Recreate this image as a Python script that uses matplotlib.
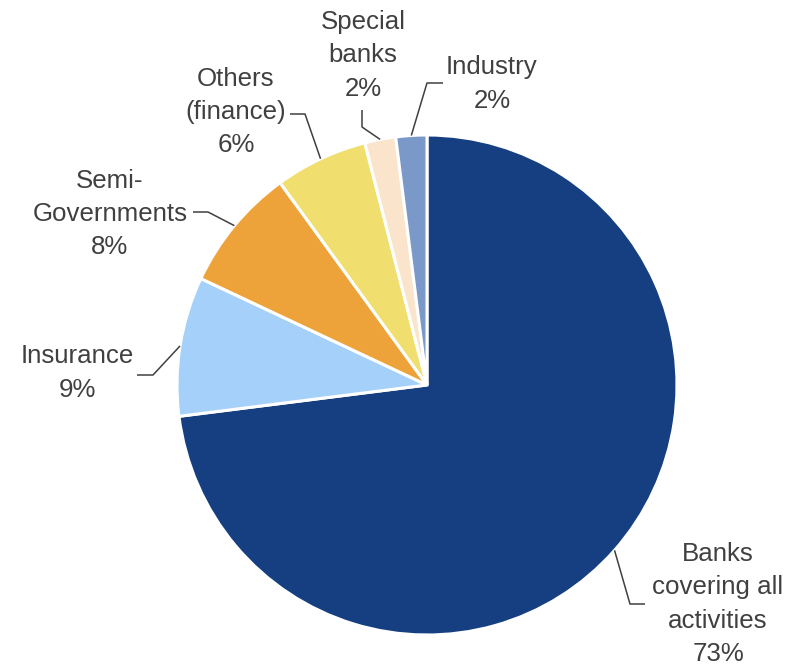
import matplotlib.pyplot as plt
import numpy as np

# share of each sector, clockwise from 12 o'clock
sectors = ["Banks\ncovering all\nactivities", "Insurance", "Semi-\nGovernments",
           "Others\n(finance)", "Special\nbanks", "Industry"]
shares = [73, 9, 8, 6, 2, 2]
colors = ["#153F80", "#A4D0FA", "#EEA33A", "#F0DF6F", "#FAE5CC", "#7A98C8"]

# label layout: text centre, elbow and end of leader (axes data units, radius 1)
text_pos = [(1.164, -0.876), (-1.40, 0.048), (-1.268, 0.684),
            (-0.764, 1.092), (-0.256, 1.32), (0.26, 1.204)]
elbow_pos = [(0.812, -0.876), (-1.096, 0.04), (-0.876, 0.692),
             (-0.488, 1.084), (-0.26, 1.032), (0.0, 1.208)]
end_pos = [(0.872, -0.876), (-1.16, 0.04), (-0.936, 0.692),
           (-0.548, 1.084), (-0.26, 1.10), (0.064, 1.208)]

plt.rcParams['font.family'] = ['Liberation Sans', 'DejaVu Sans']
txt = "#404040"

fig = plt.figure(figsize=(8, 6.68), dpi=100)
cx, cy, r = 427, 385, 250
ax = fig.add_axes([(cx - r) / 800, (668 - cy - r) / 668, 2 * r / 800, 2 * r / 668])

wedges, _ = ax.pie(shares, colors=colors, startangle=90, counterclock=False,
                   radius=1, wedgeprops=dict(edgecolor="white", linewidth=2.2))
# pie resets the limits, so pin them back to the unit circle
ax.set_xlim(-1, 1)
ax.set_ylim(-1, 1)
ax.axis("off")

for w, name, val, tp, ep, lp in zip(wedges, sectors, shares, text_pos, elbow_pos, end_pos):
    mid = np.deg2rad((w.theta1 + w.theta2) / 2)
    sx, sy = np.cos(mid), np.sin(mid)
    ax.plot([sx, ep[0], lp[0]], [sy, ep[1], lp[1]], color=txt, lw=1.1,
            clip_on=False, solid_capstyle="butt")
    ax.text(tp[0], tp[1], name + "\n" + str(val) + "%", ha="center", va="center",
            multialignment="center", fontsize=18.6, color=txt, linespacing=1.5)

fig.savefig("out.png", dpi=100)
